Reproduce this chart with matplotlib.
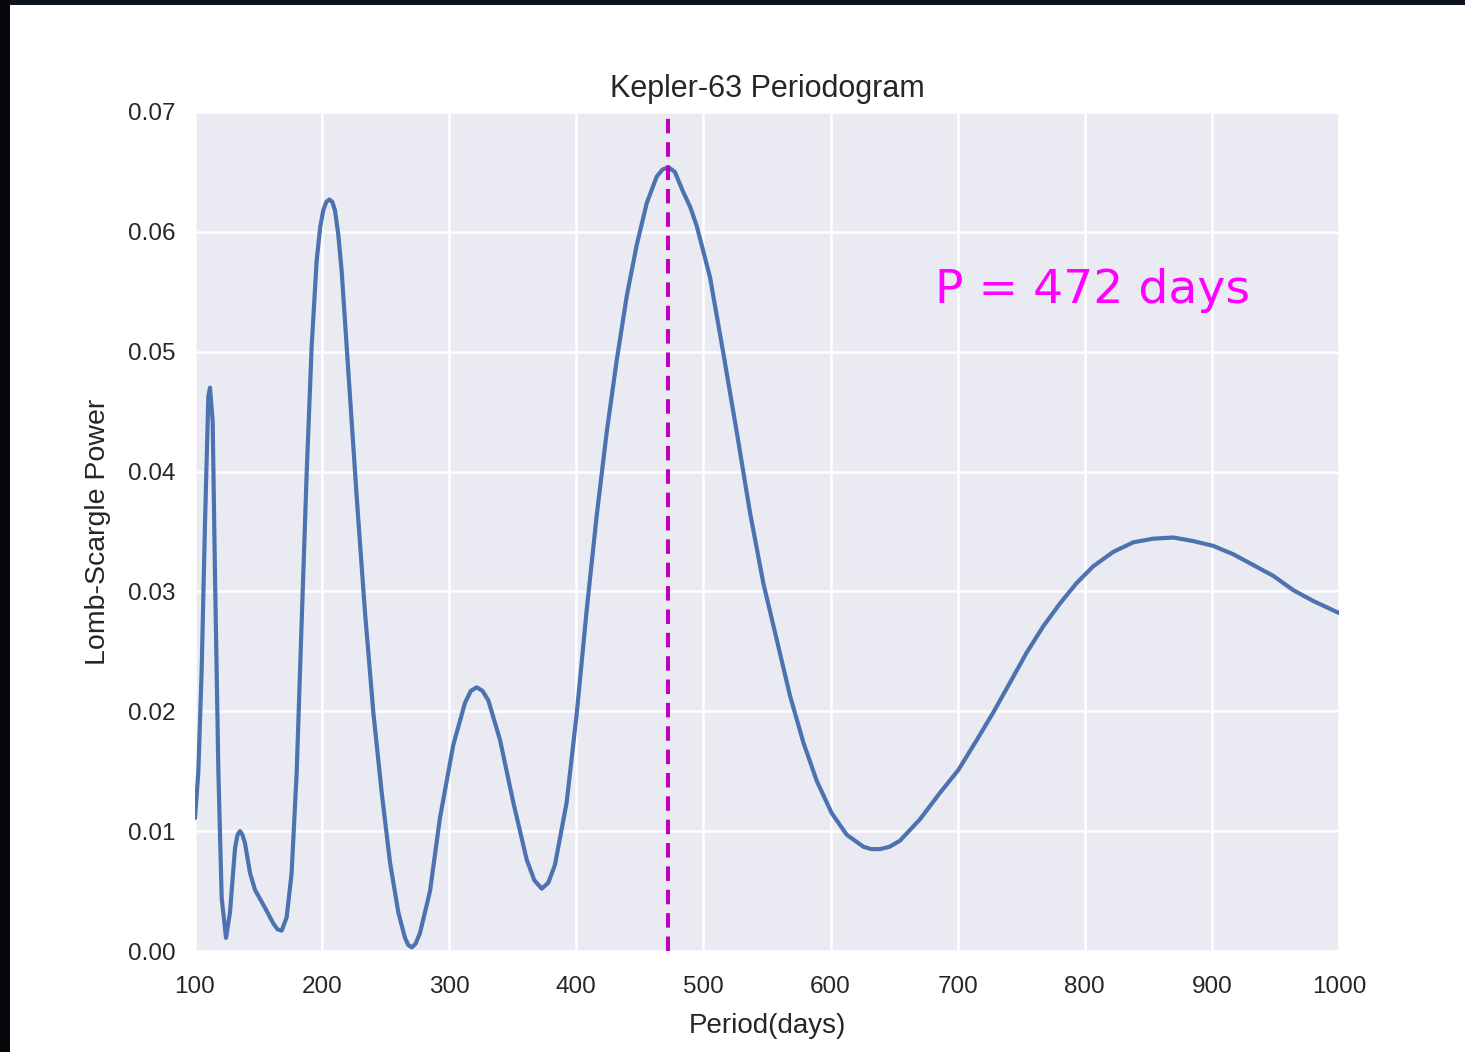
import matplotlib
matplotlib.use("Agg")
import matplotlib.pyplot as plt
from matplotlib.patches import Rectangle

# Data
period = [100.0, 102.6, 105.2, 107.9, 110.5, 111.8, 113.9, 115.7, 118.4, 121.0,
          124.4, 127.5, 131.5, 133.5, 135.4, 137.3, 139.3, 143.3, 147.2, 155.1, 161.6, 165.0, 168.2,
          172.1, 176.0, 180.0, 183.9, 187.9, 191.8, 195.7, 198.5, 200.9, 203.3, 205.7, 208.0, 210.1,
          212.7, 215.4, 220.6, 227.2, 233.7, 240.3, 246.9, 253.4, 260.0, 265.2, 267.8, 270.5, 273.5,
          277.0, 284.9, 292.7, 303.2, 312.4, 317.0, 321.6, 326.2, 330.8, 340.0, 350.4, 361.0, 367.0,
          372.8, 378.0, 383.2, 392.4, 400.3, 408.2, 416.0, 423.9, 431.8, 439.6, 447.5,
          455.4, 463.2, 467.8, 472.4, 477.5, 484.2, 489.5, 494.7, 505.2, 515.6, 526.2, 536.6, 547.1,
          557.6, 568.1, 578.6, 589.1, 600.9, 612.7, 625.8, 632.0, 638.9, 646.5, 654.6, 670.4,
          686.1, 700.5, 715.0, 728.0, 741.2, 754.3, 767.4, 780.5, 793.6, 806.7,
          822.4, 838.2, 853.9, 869.6, 885.4, 901.1, 916.8, 932.6, 948.3, 964.1,
          979.8, 1000.0]
power = [0.0111, 0.0149, 0.0233, 0.0358, 0.0463, 0.0470, 0.0442, 0.0316, 0.0149, 0.0044,
         0.0011, 0.0032, 0.0086, 0.0097, 0.0100, 0.0097, 0.0090, 0.0065, 0.0051, 0.0036, 0.0023, 0.0018, 0.0017,
         0.0028, 0.0065, 0.0149, 0.0274, 0.0400, 0.0505, 0.0576, 0.0604, 0.0618, 0.0625, 0.0627, 0.0625, 0.0618,
         0.0598, 0.0567, 0.0484, 0.0379, 0.0283, 0.0199, 0.0132, 0.0074, 0.0032, 0.0011, 0.0005, 0.0003, 0.0006,
         0.0015, 0.0050, 0.0111, 0.0172, 0.0207, 0.0217, 0.0220, 0.0217, 0.0209, 0.0176, 0.0124, 0.0076, 0.0059,
         0.0052, 0.0057, 0.0072, 0.0124, 0.0198, 0.0285, 0.0363, 0.0433, 0.0493, 0.0546, 0.0589,
         0.0624, 0.0646, 0.0652, 0.0654, 0.0650, 0.0633, 0.0621, 0.0605, 0.0562, 0.0499, 0.0433, 0.0366, 0.0307,
         0.0260, 0.0213, 0.0174, 0.0142, 0.0115, 0.0097, 0.0087, 0.0085, 0.0085, 0.0087, 0.0092, 0.0110,
         0.0132, 0.0151, 0.0176, 0.0199, 0.0224, 0.0249, 0.0271, 0.0290, 0.0307, 0.0321,
         0.0333, 0.0341, 0.0344, 0.0345, 0.0342, 0.0338, 0.0331, 0.0322, 0.0313, 0.0301,
         0.0292, 0.0282]
best_period = 472
x_ticks = [100, 200, 300, 400, 500, 600, 700, 800, 900, 1000]
y_ticks = [0.00, 0.01, 0.02, 0.03, 0.04, 0.05, 0.06, 0.07]
title = "Kepler-63 Periodogram"
xlabel = "Period(days)"
ylabel = "Lomb-Scargle Power"
annotation = "P = 472 days"

text_color = "#262626"
plt.rcParams["font.family"] = ["Liberation Sans", "DejaVu Sans"]

fig = plt.figure(figsize=(14.65, 10.52), dpi=100, facecolor="white")
ax = fig.add_axes([195/1465, 1-951/1052, (1339-195)/1465, (951-112)/1052])
ax.set_facecolor("#EAEAF2")
for s in ax.spines.values():
    s.set_visible(False)
ax.grid(True, color="white", linewidth=1.8)
ax.set_axisbelow(True)

ax.plot(period, power, color="#4C72B0", linewidth=3.0,
        solid_capstyle="round", solid_joinstyle="round")
ax.axvline(best_period, color="#BF00BF", linewidth=2.9, linestyle=(0, (3.6, 2.2)))
ax.text(682, 0.0541, annotation, color="#FF00FF", fontsize=34,
        family="DejaVu Sans", ha="left", va="baseline")

ax.set_xlim(100, 1000)
ax.set_ylim(0, 0.07)
ax.set_xticks(x_ticks)
ax.set_yticks(y_ticks)
ax.set_xticklabels([str(v) for v in x_ticks])
ax.set_yticklabels([f"{v:.2f}" for v in y_ticks])
ax.tick_params(axis="both", length=0, labelsize=17.5, labelcolor=text_color)
ax.tick_params(axis="y", pad=14)
ax.tick_params(axis="x", pad=18)
ax.set_title(title, fontsize=22, color=text_color, pad=11)
ax.set_xlabel(xlabel, fontsize=20, color=text_color, labelpad=11)
ax.set_ylabel(ylabel, fontsize=20.5, color=text_color, labelpad=12)

# dark screenshot border (top and left edges)
fig.patches.append(Rectangle((0, 1-5/1052), 1, 5/1052, transform=fig.transFigure,
                             facecolor="#0d1420", edgecolor="none", zorder=10))
fig.patches.append(Rectangle((0, 0), 10/1465, 1, transform=fig.transFigure,
                             facecolor="#08080c", edgecolor="none", zorder=10))

fig.savefig("out.png", dpi=100, facecolor="white")
